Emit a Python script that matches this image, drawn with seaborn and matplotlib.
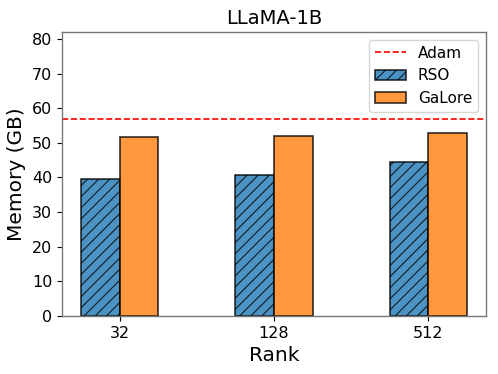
import matplotlib
matplotlib.use("Agg")
import matplotlib.pyplot as plt
import seaborn as sns
import pandas as pd

# values
ranks = ["32", "128", "512"]
rso_mem = [39.6, 40.8, 44.4]
galore_mem = [51.8, 52.1, 52.8]
adam_mem = 56.9
methods = ["RSO", "GaLore"]

df = pd.DataFrame({
    "Rank": ranks * 2,
    "Method": ["RSO"] * 3 + ["GaLore"] * 3,
    "Memory": rso_mem + galore_mem,
})

sns.set_style("white")
plt.rcParams["font.family"] = ["DejaVu Sans"]
plt.rcParams["text.color"] = "black"
plt.rcParams["axes.labelcolor"] = "black"
plt.rcParams["xtick.color"] = "black"
plt.rcParams["ytick.color"] = "black"
plt.rcParams["hatch.linewidth"] = 0.8

fig, ax = plt.subplots(figsize=(4.98, 3.74), dpi=100)
fig.subplots_adjust(left=0.1245, right=0.976, top=0.9144, bottom=0.155)

sns.barplot(data=df, x="Rank", y="Memory", hue="Method", order=ranks,
            hue_order=methods, palette=["tab:blue", "tab:orange"],
            width=0.5, alpha=0.8, edgecolor="black", linewidth=1.2,
            saturation=1, legend=False, ax=ax)

for bar in ax.containers[0].patches:
    bar.set_hatch("///")

adam = ax.axhline(adam_mem, color="red", linestyle="--", linewidth=1.2, label="Adam")

handles = [adam, ax.containers[0].patches[0], ax.containers[1].patches[0]]
ax.legend(handles, ["Adam"] + methods, loc="upper right", fontsize=11,
          frameon=True, handlelength=2.0)

ax.set_xlim(-0.375, 2.375)
ax.set_ylim(0, 82)
ax.set_yticks(range(0, 81, 10))
ax.set_title("LLaMA-1B", fontsize=14)
ax.set_xlabel("Rank", fontsize=14.5)
ax.set_ylabel("Memory (GB)", fontsize=14.5)
ax.tick_params(axis="both", labelsize=11.5, length=3.5, width=0.8,
               bottom=True, left=True)
for sp in ax.spines.values():
    sp.set_color("#777777")
    sp.set_linewidth(1.0)

fig.savefig("out.png", dpi=100)
